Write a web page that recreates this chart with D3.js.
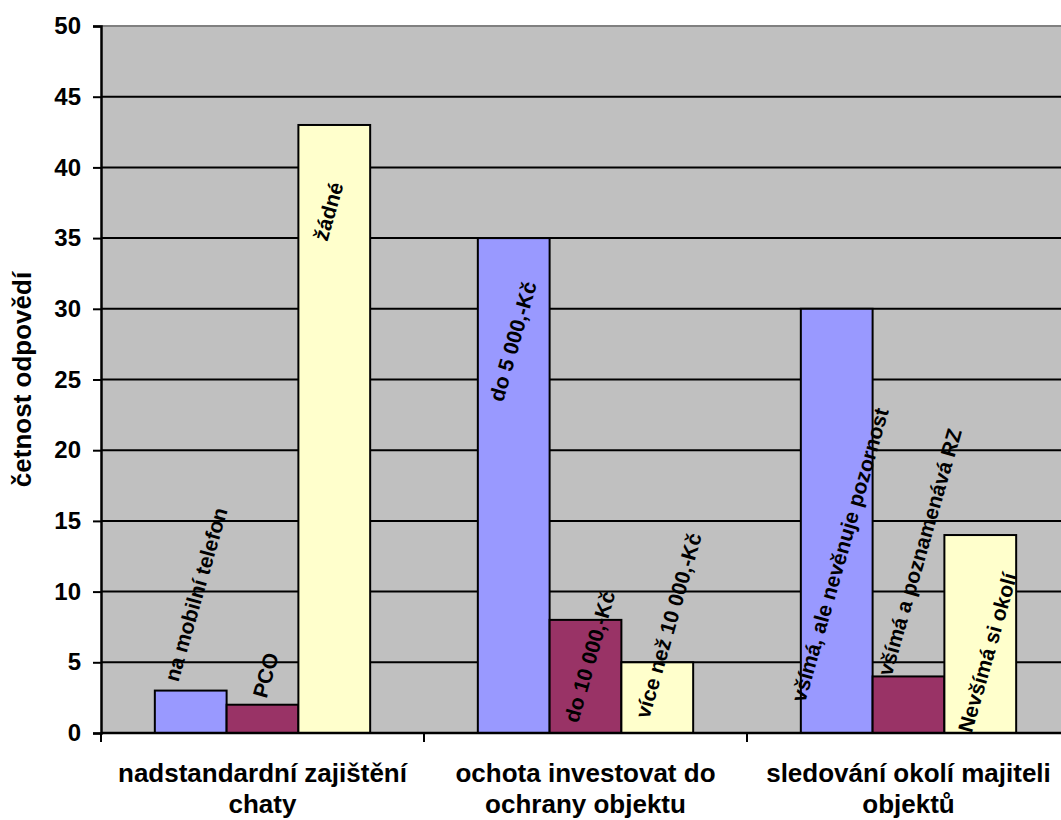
<!DOCTYPE html>
<html lang="cs">
<head>
<meta charset="UTF-8">
<title>četnost odpovědí</title>
<script src="https://d3js.org/d3.v7.min.js"></script>
<style>
    body { margin: 0; background: #ffffff; }
    svg { display: block; font-family: "Liberation Sans", Arial, sans-serif; font-weight: bold; }
</style>
</head>
<body>
<svg id="chart" width="1061" height="820"></svg>
<script>
    // --- data ---
    const categories = [
        ["nadstandardní zajištění", "chaty"],
        ["ochota investovat do", "ochrany objektu"],
        ["sledování okolí majiteli", "objektů"]
    ];
    const values = [
        [3, 2, 43],
        [35, 8, 5],
        [30, 4, 14]
    ];
    const barLabels = [
        ["na mobilní telefon", "PCO", "žádné"],
        ["do 5 000,-Kč", "do 10 000,-Kč", "více než 10 000,-Kč"],
        ["všímá, ale nevěnuje pozornost", "všímá a poznamenává RZ", "Nevšímá si okolí"]
    ];
    const yTicks = [0, 5, 10, 15, 20, 25, 30, 35, 40, 45, 50];
    const yTitle = "četnost odpovědí";

    // label centres (in axis units) and small x shifts, as placed in the original
    const labelAt = [
        [9.8, 4.1, 36.9],
        [27.7, 5.4, 7.6],
        [12.6, 12.8, 5.7]
    ];
    const labelDx = [
        [5, 3, -6],
        [-1, 4, 11],
        [3, 11, 7]
    ];

    const colors = ["#9999FF", "#993366", "#FFFFCC"];

    const svg = d3.select("#chart");
    const margin = { left: 101, top: 26, right: 1070, bottom: 733 };

    const x0 = d3.scaleBand().domain(d3.range(categories.length))
        .range([margin.left, margin.right]).paddingInner(0).paddingOuter(0);
    // gap width 150% -> bars take 3 / 4.5 of the group
    const x1 = d3.scaleBand().domain(d3.range(3))
        .range([0, x0.bandwidth()]).paddingOuter(0.75).paddingInner(0);
    const y = d3.scaleLinear().domain([0, 50]).range([margin.bottom, margin.top]);

    // plot area
    svg.append("rect")
        .attr("x", margin.left).attr("y", margin.top)
        .attr("width", margin.right - margin.left).attr("height", margin.bottom - margin.top)
        .attr("fill", "#C0C0C0");
    svg.append("line")
        .attr("x1", margin.left).attr("x2", margin.right)
        .attr("y1", margin.top).attr("y2", margin.top)
        .attr("stroke", "#808080").attr("stroke-width", 2);

    // gridlines
    svg.append("g").selectAll("line")
        .data(yTicks.filter(d => d > 0 && d < 50)).join("line")
        .attr("x1", margin.left).attr("x2", margin.right)
        .attr("y1", d => y(d)).attr("y2", d => y(d))
        .attr("stroke", "#000").attr("stroke-width", 2);

    // bars
    const groups = svg.append("g").selectAll("g")
        .data(values).join("g")
        .attr("transform", (d, i) => `translate(${x0(i)},0)`);
    groups.selectAll("rect")
        .data(d => d).join("rect")
        .attr("x", (d, j) => x1(j))
        .attr("y", d => y(d))
        .attr("width", x1.bandwidth())
        .attr("height", d => y(0) - y(d))
        .attr("fill", (d, j) => colors[j])
        .attr("stroke", "#000").attr("stroke-width", 2);

    // bar labels
    groups.each(function (d, i) {
        d3.select(this).selectAll("text")
            .data(barLabels[i]).join("text")
            .attr("transform", (t, j) =>
                `translate(${x1(j) + x1.bandwidth() / 2 + labelDx[i][j]},${y(labelAt[i][j])}) rotate(-74)`)
            .attr("text-anchor", "middle")
            .attr("dominant-baseline", "central")
            .attr("font-size", 21)
            .attr("fill", "#000")
            .text(t => t);
    });

    // y axis
    const yAxis = svg.append("g")
        .attr("transform", `translate(${margin.left},0)`)
        .call(d3.axisLeft(y).tickValues(yTicks).tickSize(8).tickPadding(12));
    yAxis.select(".domain").attr("stroke", "#000").attr("stroke-width", 2.5);
    yAxis.selectAll(".tick line").attr("stroke", "#000").attr("stroke-width", 2);
    yAxis.selectAll(".tick text")
        .attr("font-size", 24).attr("font-family", "Liberation Sans, Arial, sans-serif")
        .attr("font-weight", "bold").attr("fill", "#000");

    // x axis
    const xAxisG = svg.append("g");
    xAxisG.append("line")
        .attr("x1", margin.left).attr("x2", margin.right)
        .attr("y1", y(0)).attr("y2", y(0))
        .attr("stroke", "#000").attr("stroke-width", 2.5);
    xAxisG.selectAll("line.tick")
        .data(d3.range(categories.length + 1)).join("line")
        .attr("class", "tick")
        .attr("x1", i => margin.left + i * x0.bandwidth())
        .attr("x2", i => margin.left + i * x0.bandwidth())
        .attr("y1", y(0)).attr("y2", y(0) + 9)
        .attr("stroke", "#000").attr("stroke-width", 2);

    const catText = xAxisG.selectAll("text.cat")
        .data(categories).join("text")
        .attr("class", "cat")
        .attr("text-anchor", "middle")
        .attr("font-size", 26)
        .attr("fill", "#000");
    catText.selectAll("tspan")
        .data((d, i) => d.map(s => ({ s, i })))
        .join("tspan")
        .attr("x", d => x0(d.i) + x0.bandwidth() / 2)
        .attr("y", (d, k) => 782 + k * 31)
        .text(d => d.s);

    // y title
    svg.append("text")
        .attr("transform", `translate(31,${(margin.top + margin.bottom) / 2}) rotate(-90)`)
        .attr("text-anchor", "middle")
        .attr("font-size", 26)
        .attr("fill", "#000")
        .text(yTitle);
</script>
</body>
</html>
